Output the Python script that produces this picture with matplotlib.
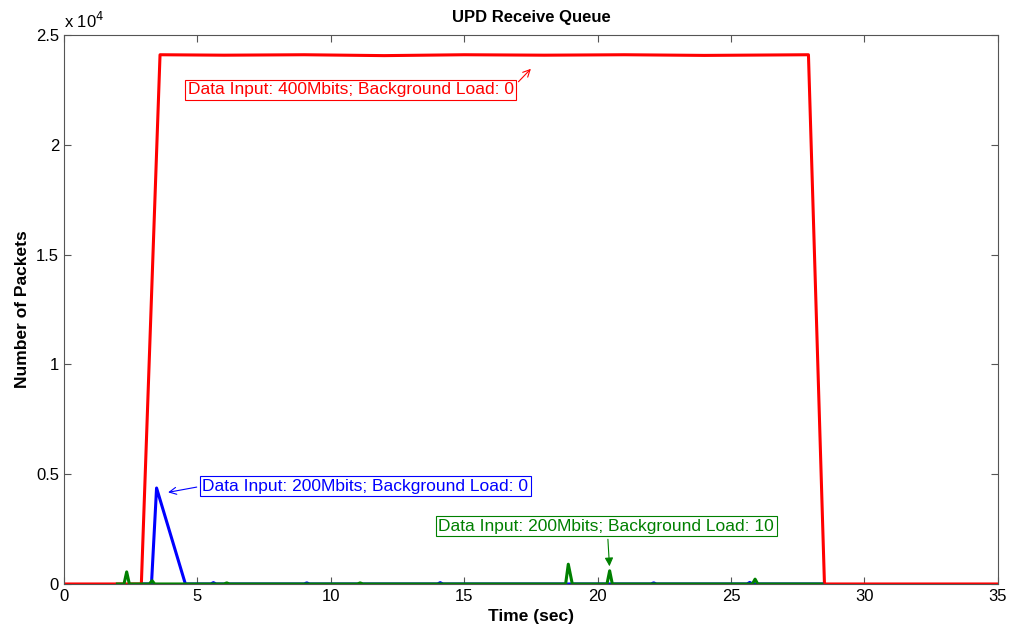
import matplotlib.pyplot as plt
from matplotlib.ticker import FuncFormatter

plt.rcParams['font.family'] = ['Liberation Sans', 'DejaVu Sans']

# red: 400Mbits, background load 0
red_t = [0, 2.9, 3.6, 6, 9, 12, 15, 18, 21, 24, 27.9, 28.5, 35]
red_q = [0, 0, 24100, 24080, 24100, 24060, 24100, 24080, 24100, 24070, 24100, 0, 0]

# blue: 200Mbits, background load 0
blue_t = [3.0, 3.28, 3.47, 4.55, 5.5, 5.6, 5.7, 9.0, 9.1, 9.2, 14.0, 14.1, 14.2,
          22.0, 22.1, 22.2, 25.6, 25.7, 25.8, 28.4]
blue_q = [0, 0, 4370, 0, 0, 60, 0, 0, 50, 0, 0, 60, 0,
          0, 50, 0, 0, 70, 0, 0]

# green: 200Mbits, background load 10
green_t = [2.0, 2.25, 2.35, 2.45, 3.2, 3.3, 3.4, 6.0, 6.1, 6.2, 11.0, 11.1, 11.2,
           18.8, 18.9, 19.05, 20.35, 20.45, 20.55, 25.8, 25.9, 26.0, 28.4]
green_q = [0, 0, 550, 0, 0, 150, 0, 0, 50, 0, 0, 50, 0,
           0, 900, 0, 0, 600, 0, 0, 220, 0, 0]

fig = plt.figure(figsize=(10.09, 6.36), dpi=100)
ax = fig.add_axes([0.0634, 0.0818, 0.9256, 0.8632])

ax.plot(red_t, red_q, color='red', lw=2.2)
ax.plot(blue_t, blue_q, color='blue', lw=2.2)
ax.plot(green_t, green_q, color='green', lw=2.2)

ax.set_xlim(0, 35)
ax.set_ylim(0, 25000)
ax.set_xticks(range(0, 36, 5))
ax.set_yticks([0, 5000, 10000, 15000, 20000, 25000])
ax.yaxis.set_major_formatter(FuncFormatter(lambda v, p: f'{v / 1e4:g}'))
ax.text(0, 1.008, r'x 10$^4$', transform=ax.transAxes, fontsize=12, va='bottom', ha='left')
ax.tick_params(direction='in', top=True, right=True, labelsize=12, length=5, color='#555555')
for s in ax.spines.values():
    s.set_color('#555555')

ax.set_title('UPD Receive Queue', fontsize=12, fontweight='bold', pad=9)
ax.set_xlabel('Time (sec)', fontsize=12.5, fontweight='bold')
ax.set_ylabel('Number of Packets', fontsize=12.5, fontweight='bold')

ax.annotate('Data Input: 400Mbits; Background Load: 0', xy=(17.57, 23550), xytext=(4.63, 22500),
            color='red', fontsize=12.5, va='center',
            bbox=dict(boxstyle='square,pad=0.15', fc='white', ec='red', lw=0.8),
            arrowprops=dict(arrowstyle='->', color='red', lw=0.8, relpos=(1, 0.7)))
ax.annotate('Data Input: 200Mbits; Background Load: 0', xy=(3.8, 4150), xytext=(5.19, 4460),
            color='blue', fontsize=12.5, va='center',
            bbox=dict(boxstyle='square,pad=0.15', fc='white', ec='blue', lw=0.8),
            arrowprops=dict(arrowstyle='->', color='blue', lw=0.8, relpos=(0, 0.5)))
ax.annotate('Data Input: 200Mbits; Background Load: 10', xy=(20.45, 680), xytext=(14.03, 2640),
            color='green', fontsize=12.5, va='center',
            bbox=dict(boxstyle='square,pad=0.15', fc='white', ec='green', lw=0.8),
            arrowprops=dict(arrowstyle='-|>', color='green', lw=0.8, relpos=(0.504, 0)))

fig.savefig('out.png', dpi=100)
